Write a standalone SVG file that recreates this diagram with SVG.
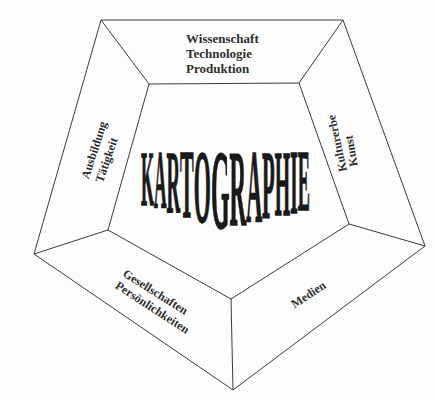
<svg xmlns="http://www.w3.org/2000/svg" width="436" height="399" viewBox="0 0 436 399">
<style>
.ln{fill:none;stroke:#3a3a3a;stroke-width:1;stroke-linejoin:round}
.lbl{font-family:"Liberation Serif","Times New Roman",serif;font-weight:bold;font-size:12px;fill:#2e2e2e}
.top{font-size:13px}
.mid{text-anchor:middle}
.big{font-family:"Liberation Serif","Times New Roman",serif;font-weight:bold;fill:#1a1a1a;stroke:#1a1a1a;stroke-width:1.5}
</style>
<rect width="436" height="399" fill="#fdfdfd"/>
<g id="connectors">
<polygon class="ln" points="101,20 343,20 425,246 233,390 34,254"/>
<polygon class="ln" points="149,84 299,83 349,224 231,299 108,230"/>
<line class="ln" x1="101" y1="20" x2="149" y2="84"/>
<line class="ln" x1="343" y1="20" x2="299" y2="83"/>
<line class="ln" x1="425" y1="246" x2="349" y2="224"/>
<line class="ln" x1="233" y1="390" x2="231" y2="299"/>
<line class="ln" x1="34" y1="254" x2="108" y2="230"/>
</g>
<g id="node-top">
<text class="lbl top" x="186" y="43">Wissenschaft</text>
<text class="lbl top" x="186" y="58">Technologie</text>
<text class="lbl top" x="186" y="73">Produktion</text>
</g>
<g id="node-left">
<text class="lbl mid" transform="translate(94,150) rotate(-72)" y="4">Ausbildung</text>
<text class="lbl mid" transform="translate(106.5,160) rotate(-71)" y="4">Tätigkeit</text>
</g>
<g id="node-right">
<text class="lbl mid" transform="translate(337,143.4) rotate(-102)" y="4">Kulturerbe</text>
<text class="lbl mid" transform="translate(351,151) rotate(-100)" y="4">Kunst</text>
</g>
<g id="node-bottom-left">
<text class="lbl mid" transform="translate(155.5,292) rotate(32)" y="4">Gesellschaften</text>
<text class="lbl mid" transform="translate(152.5,307.5) rotate(33)" y="4">Persönlichkeiten</text>
</g>
<g id="node-bottom-right">
<text class="lbl mid" transform="translate(308.5,294.5) rotate(-33)" y="4">Medien</text>
</g>
<g id="node-center">
<text class="big" transform="translate(141,0) scale(0.212,1)" x="0"><tspan y="205" font-size="78.5">K</tspan><tspan y="207" font-size="81.6">A</tspan><tspan y="212" font-size="89">R</tspan><tspan y="217" font-size="96.7">T</tspan><tspan y="222" font-size="104">O</tspan><tspan y="228" font-size="113">G</tspan><tspan y="225" font-size="109">R</tspan><tspan y="222" font-size="104">A</tspan><tspan y="218" font-size="98">P</tspan><tspan y="215" font-size="93.7">H</tspan><tspan y="213" font-size="90.6">I</tspan><tspan y="210" font-size="86">E</tspan></text>
</g>
</svg>
